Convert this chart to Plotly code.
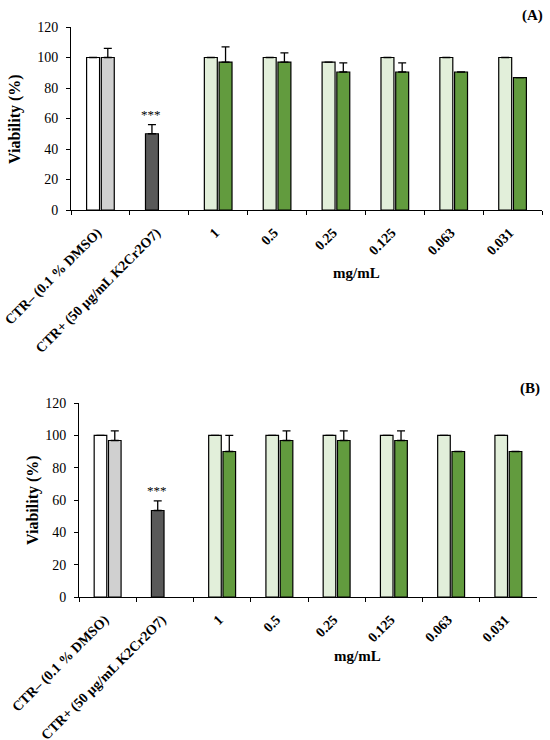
import plotly.graph_objects as go
from plotly.subplots import make_subplots

# categories on the x axis (same for both panels)
categories = ["CTR– (0.1 % DMSO)", "CTR+ (50 µg/mL K2Cr2O7)",
              "1", "0.5", "0.25", "0.125", "0.063", "0.031"]

# panel A
a_left = [100, 50, 100, 100, 97, 100, 100, 100]
a_left_err = [0, 6, 0, 0, 0, 0, 0, 0]
a_right = [100, None, 97, 97, 90.5, 90.5, 90.5, 86.8]
a_right_err = [6, 0, 10, 6, 6, 6, 0, 0]

# panel B
b_left = [100, 53.5, 100, 100, 100, 100, 100, 100]
b_left_err = [0, 6, 0, 0, 0, 0, 0, 0]
b_right = [96.8, None, 90, 96.8, 96.8, 96.8, 90, 90]
b_right_err = [6, 0, 10, 6, 6, 6, 0, 0]

y_ticks = [0, 20, 40, 60, 80, 100, 120]

left_colors = ["#FFFFFF", "#595959"] + ["#E2EFDA"] * 6
right_colors = ["#D0D0D0", "#FFFFFF"] + ["#629B3E"] * 6

FONT = "Liberation Serif"
W, H = 550, 740

fig = make_subplots(rows=2, cols=1)


def add_panel(row, left, left_err, right, right_err):
    for vals, errs, cols in [(left, left_err, left_colors), (right, right_err, right_colors)]:
        fig.add_trace(go.Bar(
            x=categories, y=vals,
            marker=dict(color=cols, line=dict(color="black", width=1.2)),
            error_y=dict(type="data", symmetric=False, array=errs,
                         arrayminus=[0] * len(errs), color="black",
                         thickness=1.3, width=4),
            showlegend=False,
        ), row=row, col=1)


add_panel(1, a_left, a_left_err, a_right, a_right_err)
add_panel(2, b_left, b_left_err, b_right, b_right_err)

fig.update_xaxes(type="category", showline=True, linecolor="black", linewidth=1,
                 ticks="outside", tickson="boundaries", ticklen=4, tickcolor="black",
                 tickangle=-45, automargin=False, ticklabelstandoff=8,
                 ticklabelshift=-3,
                 tickfont=dict(family=FONT, size=14, color="black", weight="bold"),
                 showgrid=False, zeroline=False)
fig.update_yaxes(range=[0, 120], tickvals=y_ticks, showline=True, linecolor="black",
                 linewidth=1, ticks="outside", ticklen=4, tickcolor="black",
                 automargin=False, ticklabelstandoff=5,
                 tickfont=dict(family=FONT, size=14, color="black"),
                 showgrid=False, zeroline=False)

fig.update_layout(
    width=W, height=H,
    margin=dict(l=0, r=0, t=0, b=0),
    paper_bgcolor="white", plot_bgcolor="white",
    barmode="group", bargap=0.5, bargroupgap=0.12,
    xaxis=dict(domain=[71 / W, 542 / W]),
    yaxis=dict(domain=[1 - 210 / H, 1 - 27 / H]),
    xaxis2=dict(domain=[79 / W, 537 / W]),
    yaxis2=dict(domain=[1 - 597 / H, 1 - 403 / H]),
)

# significance stars over the positive control
for xr, yr, top in [("x", "y", a_left[1] + a_left_err[1]),
                    ("x2", "y2", b_left[1] + b_left_err[1])]:
    fig.add_annotation(x=categories[1], y=top, xref=xr, yref=yr, text="***",
                       showarrow=False, xshift=-8, yanchor="bottom", yshift=1,
                       font=dict(family=FONT, size=13, color="black"))


def paper_text(px, py, text, size, angle=0):
    fig.add_annotation(x=px / W, y=1 - py / H, xref="paper", yref="paper",
                       text=text, showarrow=False, textangle=angle,
                       xanchor="center", yanchor="middle",
                       font=dict(family=FONT, size=size, color="black"))


paper_text(532, 15, "<b>(A)</b>", 15)
paper_text(530, 388, "<b>(B)</b>", 15)
paper_text(356, 273, "<b>mg/mL</b>", 15)
paper_text(357, 656, "<b>mg/mL</b>", 15)
paper_text(15, 119, "<b>Viability (%)</b>", 16, -90)
paper_text(33, 500, "<b>Viability (%)</b>", 16, -90)

# the page body has a default margin; drop it so the figure sits at 0,0
fig.write_html("out.html", config={"displayModeBar": False},
               post_script="document.body.style.margin = '0';")
